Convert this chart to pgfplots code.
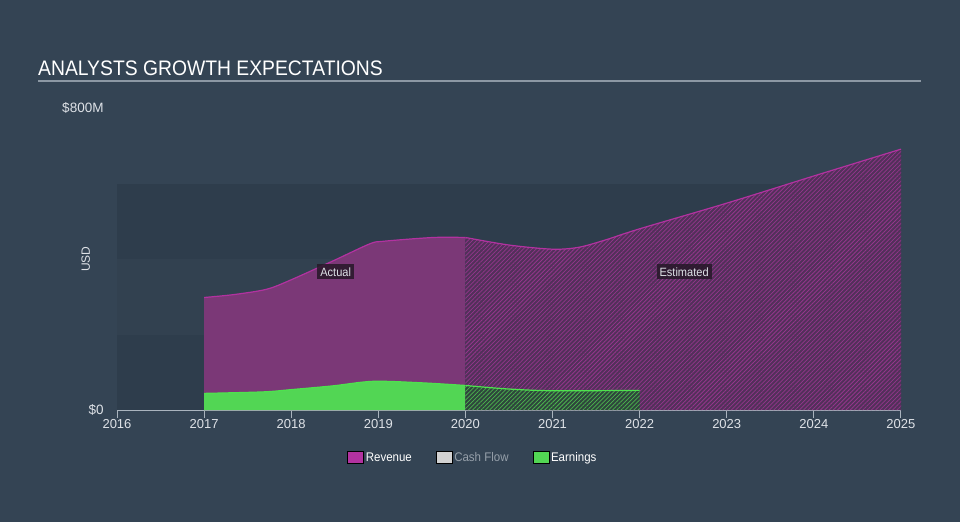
\documentclass[border=0pt]{standalone}
\usepackage{fontspec}
\setmainfont{Liberation Sans}
\newfontfamily\titlefont[FakeStretch=0.92]{Liberation Sans}
\newfontfamily\legendfont[FakeStretch=0.92]{Liberation Sans}
\usepackage{pgfplots}
\pgfplotsset{compat=1.18}
\usetikzlibrary{patterns.meta}

\definecolor{bg}{RGB}{52,68,84}
\definecolor{band}{RGB}{46,61,76}
\definecolor{band2}{RGB}{50,65,80}
\definecolor{revfill}{RGB}{123,56,119}
\definecolor{revline}{RGB}{178,50,160}
\definecolor{revhatchbg}{RGB}{82,48,90}
\definecolor{revhatch}{RGB}{148,54,140}
\definecolor{earnfill}{RGB}{82,214,84}
\definecolor{earnline}{RGB}{78,226,78}
\definecolor{earnhatch}{RGB}{76,180,78}
\definecolor{earnhatchbg}{RGB}{46,70,60}
\definecolor{axisgray}{RGB}{170,180,190}
\definecolor{ticktext}{RGB}{222,226,231}
\definecolor{titleline}{RGB}{140,152,164}
\definecolor{cashgray}{RGB}{210,210,210}
\definecolor{cashtext}{RGB}{150,160,170}
\definecolor{tagbg}{RGB}{38,24,40}

\begin{document}
\begin{tikzpicture}[x=1pt,y=1pt]
\fill[bg] (0,0) rectangle (960,522);
\node[anchor=base west, inner sep=0, text=white, font=\titlefont\fontsize{21}{24}\selectfont] at (38,446) {ANALYSTS GROWTH EXPECTATIONS};
\draw[titleline, line width=1.5pt] (38,441) -- (921,441);

\begin{axis}[
  at={(117pt,112pt)}, anchor=south west,
  scale only axis, width=784pt, height=302pt,
  xmin=2016, xmax=2025, ymin=0, ymax=800,
  axis x line*=bottom, axis y line*=left,
  x axis line style={axisgray, line width=1pt, -},
  y axis line style={draw=none},
  xtick={2016,...,2025},
  xticklabels={2016,2017,2018,2019,2020,2021,2022,2023,2024,2025},
  ytick={0,800}, yticklabels={\$0,\$800M},
  tick align=outside, major tick length=8pt,
  x tick style={axisgray, line width=1pt},
  y tick style={draw=none},
  xticklabel style={text=ticktext, font=\fontsize{13}{15}\selectfont, inner sep=1pt},
  yticklabel style={text=ticktext, font=\fontsize{13.5}{15}\selectfont, xshift=-2pt},
  /pgf/number format/assume math mode=true,
  clip=false,
  legend style={at={(0.454,-0.159)}, anchor=center, legend columns=-1,
    draw=none, fill=none, text=white, font=\legendfont\fontsize{12.5}{14}\selectfont,
    /tikz/every even column/.append style={column sep=22pt}},
  legend image code/.code={\fill[#1] (0pt,-5pt) rectangle (16pt,7pt);},
]
\fill[band] (axis cs:2016,0) rectangle (axis cs:2025,600);
\fill[band2] (axis cs:2016,200) rectangle (axis cs:2025,400);

% revenue, actual
\addplot[draw=none, fill=revfill, smooth, tension=0.5, forget plot] coordinates {
  (2017,298) (2017.35,306) (2017.72,320) (2018,345) (2018.48,395)
  (2018.9,440) (2019.06,447) (2019.63,457) (2020,457)
} \closedcycle;
% revenue, estimated
\addplot[draw=none, fill=revhatchbg,
  postaction={pattern={Lines[angle=45,distance=3pt,line width=0.75pt]}, pattern color=revhatch},
  smooth, tension=0.5, forget plot] coordinates {
  (2020,457) (2020.5,437) (2021,426) (2021.3,431) (2021.6,450)
  (2022,480) (2023,548) (2024,620) (2025,691)
} \closedcycle;
\addplot[revline, line width=1.2pt, smooth, tension=0.5, forget plot] coordinates {
  (2017,298) (2017.35,306) (2017.72,320) (2018,345) (2018.48,395)
  (2018.9,440) (2019.06,447) (2019.63,457) (2020,457)
};
\addplot[revline, line width=1.2pt, smooth, tension=0.5, forget plot] coordinates {
  (2020,457) (2020.5,437) (2021,426) (2021.3,431) (2021.6,450)
  (2022,480) (2023,548) (2024,620) (2025,691)
};

% earnings, actual
\addplot[draw=none, fill=earnfill, smooth, tension=0.5, forget plot] coordinates {
  (2017,44) (2017.68,48) (2018,54) (2018.48,64) (2018.94,76) (2019.5,72) (2020,65)
} \closedcycle;
% earnings, estimated
\addplot[draw=none, fill=earnhatchbg,
  postaction={pattern={Lines[angle=45,distance=3pt,line width=0.75pt]}, pattern color=earnhatch},
  smooth, tension=0.5, forget plot] coordinates {
  (2020,65) (2020.47,56) (2021,51) (2022,52)
} \closedcycle;
\addplot[earnline, line width=1.2pt, smooth, tension=0.5, forget plot] coordinates {
  (2017,44) (2017.68,48) (2018,54) (2018.48,64) (2018.94,76) (2019.5,72) (2020,65)
};
\addplot[earnline, line width=1.2pt, smooth, tension=0.5, forget plot] coordinates {
  (2020,65) (2020.47,56) (2021,51) (2022,52)
};

\node[fill=tagbg, fill opacity=0.85, text opacity=1, text=ticktext, inner sep=3pt,
  font=\legendfont\fontsize{12}{14}\selectfont] at (axis cs:2018.51,366) {Actual};
\node[fill=tagbg, fill opacity=0.85, text opacity=1, text=ticktext, inner sep=3pt,
  font=\legendfont\fontsize{12}{14}\selectfont] at (axis cs:2022.51,366) {Estimated};
\node[rotate=90, text=ticktext, font=\fontsize{12}{14}\selectfont] at (rel axis cs:-0.04,0.5) {USD};

\addlegendimage{fill=revline}
\addlegendentry{Revenue}
\addlegendimage{fill=cashgray}
\addlegendentry{\textcolor{cashtext}{Cash Flow}}
\addlegendimage{fill=earnfill}
\addlegendentry{Earnings}
\end{axis}
\end{tikzpicture}
\end{document}
